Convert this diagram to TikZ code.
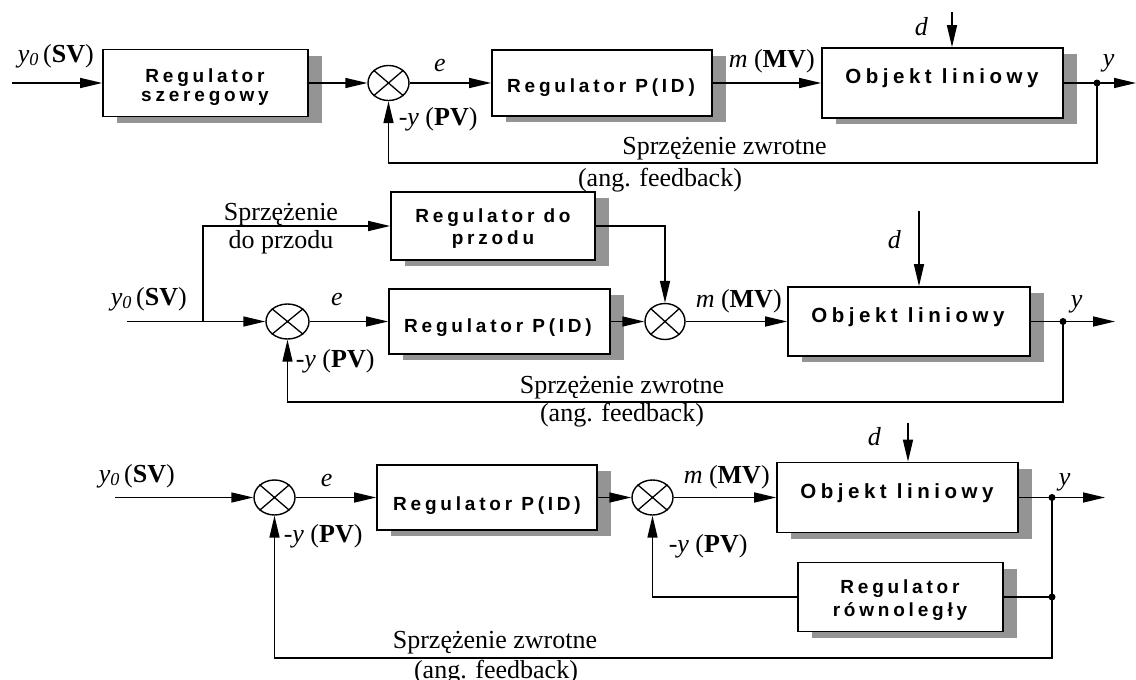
\documentclass[tikz,border=0pt]{standalone}
\usepackage{fontspec}
\setmainfont{Liberation Serif}
\newfontfamily\regfont[LetterSpace=20]{Liberation Sans}
\newfontfamily\objfont[LetterSpace=22]{Liberation Sans}
\usetikzlibrary{arrows.meta,shapes.geometric,shadows}

\begin{document}
\begin{tikzpicture}[x=1pt,y=-1pt,
  line width=1.5pt,
  arr/.style={-{Triangle[length=22pt,width=10pt]}},
  blk/.style={draw, fill=white, line width=1.7pt, inner sep=0,
    drop shadow={shadow xshift=14pt, shadow yshift=-6pt, fill=black!42, opacity=1}},
  sumj/.style={draw, ellipse, fill=white, minimum width=41pt, minimum height=35pt,
    inner sep=0, line width=1.4pt},
  jdot/.style={circle, fill, inner sep=0, minimum size=7pt},
  lab/.style={inner sep=0, font=\fontsize{26}{30}\selectfont},
  rtxt/.style={inner sep=0, font=\regfont\bfseries\fontsize{19}{22}\selectfont},
  otxt/.style={inner sep=0, font=\objfont\bfseries\fontsize{20.5}{24}\selectfont},
]
\useasboundingbox (0,0) rectangle (1136,680);

% ---------------- series controller loop ----------------
\node[blk, minimum width=205pt, minimum height=67pt] (ser) at (205.5,83) {};
\node[sumj] (c1) at (388.5,83) {};
\node[blk, minimum width=220pt, minimum height=66pt] (pid1) at (602,83) {};
\node[blk, minimum width=241pt, minimum height=70pt] (obj1) at (942.5,83) {};
\node[jdot] (j1) at (1097,83) {};
\coordinate (in1) at (12,83);
\coordinate (out1) at (1136,83);
\coordinate (dtop1) at (952,12);
\coordinate (fb1) at (388.5,163);

\draw[arr] (in1) -- (ser);
\draw[arr] (ser) -- (c1);
\draw[arr] (c1) -- (pid1);
\draw[arr] (pid1) -- (obj1);
\draw[arr] (obj1) -- (out1);
\draw[arr] (dtop1) -- (dtop1 |- obj1.north);
\draw[arr] (j1.center) |- (fb1) -- (c1);

\node[rtxt, anchor=base] (tser1) at (205,82) {Regulator};
\node[rtxt, anchor=base] (tser2) at (205,101) {szeregowy};
\node[rtxt, anchor=base] (tpid1) at (601,92) {Regulator P(ID)};
\node[otxt, anchor=base] (tobj1) at (942,83) {Objekt liniowy};

\node[lab, anchor=base west] (lsv1) at (17,62) {\textit{y}\textsubscript{\textit{0}}\,(\textbf{SV})};
\node[lab, anchor=base] (le1) at (440,71) {\textit{e}};
\node[lab, anchor=base west] (lpv1) at (398,125) {-\textit{y} (\textbf{PV})};
\node[lab, anchor=base west] (lmv1) at (728,67) {\textit{m} (\textbf{MV})};
\node[lab, anchor=base west] (ld1) at (914,35) {\textit{d}};
\node[lab, anchor=base west] (ly1) at (1102,66) {\textit{y}};
\node[lab, anchor=base] (lfb1) at (724.5,154) {Sprzężenie zwrotne};
\node[lab, anchor=base] (lang1) at (660,186) {(ang. feedback)};

% ---------------- feedforward loop ----------------
\node[blk, minimum width=204pt, minimum height=68pt] (ff) at (493,226) {};
\node[sumj, minimum width=43pt] (c2) at (287.5,321.5) {};
\node[blk, minimum width=221pt, minimum height=65pt] (pid2) at (499.5,321.5) {};
\node[sumj, minimum width=40pt, minimum height=36pt] (c3) at (665,321.5) {};
\node[blk, minimum width=242pt, minimum height=69pt] (obj2) at (909,321.5) {};
\node[jdot] (j2) at (1063,321.5) {};
\coordinate (in2) at (127,321.5);
\coordinate (br2) at (203,321.5);
\coordinate (out2) at (1115,321.5);
\coordinate (dtop2) at (919,211);
\coordinate (fb2) at (287.5,402);

\draw[arr] (in2) -- (c2);
\draw[arr] (br2) |- (ff);
\draw[arr] (c2) -- (pid2);
\draw[arr] (pid2) -- (c3);
\draw[arr] (ff) -| (c3);
\draw[arr] (c3) -- (obj2);
\draw[arr] (obj2) -- (out2);
\draw[arr] (dtop2) -- (dtop2 |- obj2.north);
\draw[arr] (j2.center) |- (fb2) -- (c2);

\node[rtxt, anchor=base] (tff1) at (493,222) {Regulator do};
\node[rtxt, anchor=base] (tff2) at (493,244) {przodu};
\node[rtxt, anchor=base] (tpid2) at (498,332) {Regulator P(ID)};
\node[otxt, anchor=base] (tobj2) at (908,322) {Objekt liniowy};

\node[lab, anchor=base] (lff1) at (281,220) {Sprzężenie};
\node[lab, anchor=base] (lff2) at (281,248) {do przodu};
\node[lab, anchor=base west] (lsv2) at (110,305) {\textit{y}\textsubscript{\textit{0}}\,(\textbf{SV})};
\node[lab, anchor=base] (le2) at (337,305) {\textit{e}};
\node[lab, anchor=base west] (lpv2) at (295,367) {-\textit{y} (\textbf{PV})};
\node[lab, anchor=base west] (lmv2) at (695,307) {\textit{m} (\textbf{MV})};
\node[lab, anchor=base west] (ld2) at (887,248) {\textit{d}};
\node[lab, anchor=base west] (ly2) at (1070,307) {\textit{y}};
\node[lab, anchor=base] (lfb2) at (622,393) {Sprzężenie zwrotne};
\node[lab, anchor=base] (lang2) at (622,421) {(ang. feedback)};

% ---------------- parallel controller loop ----------------
\node[sumj] (c4) at (274.5,497.5) {};
\node[blk, minimum width=220pt, minimum height=65pt] (pid3) at (487,497.5) {};
\node[sumj] (c5) at (652.5,497.5) {};
\node[blk, minimum width=241pt, minimum height=70pt] (obj3) at (897.5,497.5) {};
\node[blk, minimum width=205pt, minimum height=69pt] (par) at (900.5,597) {};
\node[jdot] (j3) at (1052,497.5) {};
\node[jdot] (j4) at (1052,597) {};
\coordinate (in3) at (115,497.5);
\coordinate (out3) at (1105,497.5);
\coordinate (dtop3) at (908,423);
\coordinate (fbc) at (1052,658);

\draw[arr] (in3) -- (c4);
\draw[arr] (c4) -- (pid3);
\draw[arr] (pid3) -- (c5);
\draw[arr] (c5) -- (obj3);
\draw[arr] (obj3) -- (out3);
\draw[arr] (dtop3) -- (dtop3 |- obj3.north);
\draw (j4.center) -- (par);
\draw[arr] (par) -| (c5);
\draw[arr] (j3.center) -- (fbc) -| (c4);

\node[rtxt, anchor=base] (tpid3) at (487,510) {Regulator P(ID)};
\node[otxt, anchor=base] (tobj3) at (897,498) {Objekt liniowy};
\node[rtxt, anchor=base] (tpar1) at (900,593) {Regulator};
\node[rtxt, anchor=base] (tpar2) at (900,616) {równoległy};

\node[lab, anchor=base west] (lsv3) at (98,482) {\textit{y}\textsubscript{\textit{0}}\,(\textbf{SV})};
\node[lab, anchor=base west] (le3) at (320,486) {\textit{e}};
\node[lab, anchor=base west] (lpv3) at (283,542) {-\textit{y} (\textbf{PV})};
\node[lab, anchor=base west] (lmv3) at (683,483) {\textit{m} (\textbf{MV})};
\node[lab, anchor=base west] (lpv4) at (668,552) {-\textit{y} (\textbf{PV})};
\node[lab, anchor=base west] (ld3) at (867,445) {\textit{d}};
\node[lab, anchor=base west] (ly3) at (1058,485) {\textit{y}};
\node[lab, anchor=base] (lfb3) at (495,648) {Sprzężenie zwrotne};
\node[lab, anchor=base] (lang3) at (496,678) {(ang. feedback)};

% crosses inside the summing junctions
\foreach \s in {c1,c2,c3,c4,c5}{
  \draw[line width=1.3pt] (\s.north west) -- (\s.south east) (\s.north east) -- (\s.south west);
}
\end{tikzpicture}
\end{document}
